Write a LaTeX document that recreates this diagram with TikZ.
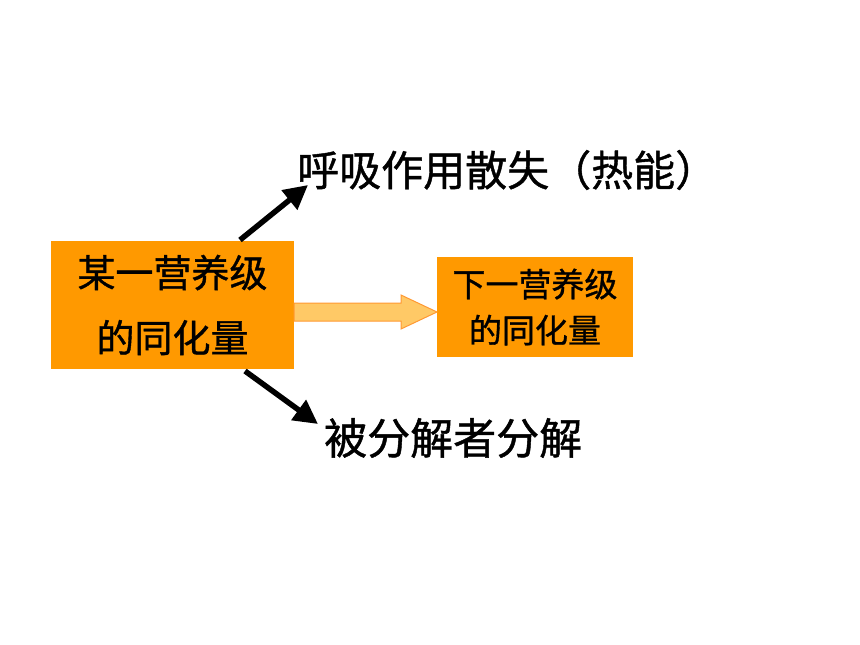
\documentclass[tikz,border=0pt]{standalone}
\usepackage{fontspec}
\newfontfamily\cjk[FakeBold=1]{Noto Sans CJK SC}
\usetikzlibrary{shapes.arrows,arrows.meta}
\definecolor{boxorange}{HTML}{FF9900}
\definecolor{arrowfill}{HTML}{FFC966}
\definecolor{arrowline}{HTML}{FF9933}
\tikzset{
  orangebox/.style={fill=boxorange, draw=none, inner sep=0pt, align=center, font=\cjk},
  label/.style={inner sep=0pt, font=\cjk\fontsize{42}{48}\selectfont},
  blackarrow/.style={line width=5.5pt, -{Triangle[length=24pt,width=24pt]}},
}
\begin{document}
\begin{tikzpicture}[x=1pt,y=-1pt]
\useasboundingbox (0,0) rectangle (860,645);
\fill[white] (0,0) rectangle (860,645);
% boxes
\node[orangebox, minimum width=243pt, minimum height=128pt, font=\cjk\fontsize{38}{65}\selectfont] (src) at (172.5,305) {某一营养级\\的同化量};
\node[orangebox, minimum width=196pt, minimum height=100pt, font=\cjk\fontsize{33}{46}\selectfont] (dst) at (535,307) {下一营养级\\的同化量};
% block arrow
\fill[arrowfill, draw=arrowline, line width=1pt]
  (294,303) -- (401,303) -- (401,295) -- (437,312) -- (401,329) -- (401,321) -- (294,321) -- cycle;
\coordinate (ba) at (294,312);
% labels
\node[label, anchor=west] (resp) at (297,170) {呼吸作用散失（热能）};
\node[label, anchor=west, font=\cjk\fontsize{43}{48}\selectfont] (dec) at (324,438) {被分解者分解};
% black arrows
\coordinate (u0) at (240,240);
\coordinate (u1) at (308,185);
\coordinate (d0) at (245,371);
\coordinate (d1) at (318,424);
\draw[blackarrow] (u0) -- (u1);
\draw[blackarrow] (d0) -- (d1);
\end{tikzpicture}
\end{document}
